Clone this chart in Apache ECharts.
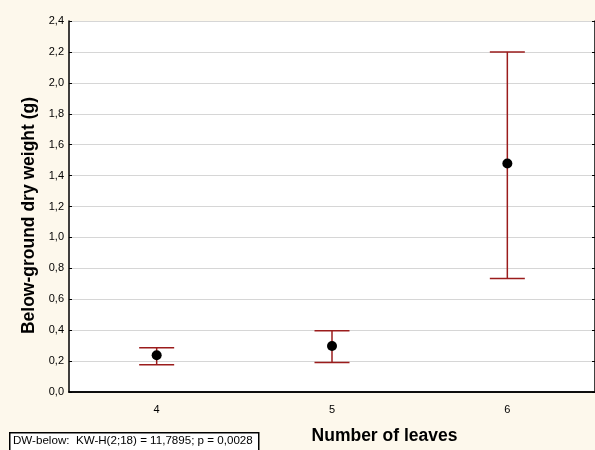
<!DOCTYPE html>
<html>
<head>
<meta charset="utf-8">
<script src="https://cdn.jsdelivr.net/npm/echarts@6/dist/echarts.min.js"></script>
<style>
html,body{margin:0;padding:0;background:#fdf8ec;}
#c{width:595px;height:450px;}
</style>
</head>
<body>
<div id="c"></div>
<script>
var categories = ['4', '5', '6'];
var means = [0.238, 0.298, 1.478];
var lowers = [0.176, 0.191, 0.734];
var uppers = [0.287, 0.396, 2.200];
var yTicks = [0, 0.2, 0.4, 0.6, 0.8, 1.0, 1.2, 1.4, 1.6, 1.8, 2.0, 2.2, 2.4];
var footnote = 'DW-below:  KW-H(2;18) = 11,7895; p = 0,0028';

var font = '"Liberation Sans", Arial, sans-serif';
var chart = echarts.init(document.getElementById('c'));
var errData = categories.map(function(c, i){ return [i, lowers[i], uppers[i]]; });
var fmt = function(v){ return v.toFixed(1).replace('.', ','); };

chart.setOption({
  backgroundColor: '#fdf8ec',
  animation: false,
  grid: {left: 69, right: 0, top: 21, bottom: 54, backgroundColor: '#ffffff', show: true, borderWidth: 0},
  xAxis: [{
    type: 'category', data: categories, boundaryGap: true, position: 'bottom',
    axisLine: {lineStyle: {color: '#000', width: 1.5}},
    axisTick: {alignWithLabel: true, inside: true, length: 3, lineStyle: {color: '#000'}},
    axisLabel: {color: '#000', fontFamily: font, fontSize: 11, margin: 12},
    name: 'Number of leaves', nameLocation: 'middle', nameGap: 35,
    nameTextStyle: {fontFamily: font, fontSize: 17.5, fontWeight: 'bold', color: '#000', padding: [0,0,0,105]}
  },{
    type: 'category', data: categories, boundaryGap: true, position: 'top',
    axisLine: {lineStyle: {color: '#000', width: 1.5}},
    axisTick: {alignWithLabel: true, inside: true, length: 3, lineStyle: {color: '#000'}},
    axisLabel: {show: false}
  }],
  yAxis: [{
    type: 'value', min: 0, max: 2.4, interval: 0.2, position: 'left',
    axisLine: {show: true, lineStyle: {color: '#000', width: 1.5}},
    axisTick: {show: true, inside: true, length: 3, lineStyle: {color: '#000'}},
    axisLabel: {color: '#000', fontFamily: font, fontSize: 11, margin: 5,
      formatter: function(v){ var t = yTicks.filter(function(x){return Math.abs(x-v)<1e-6;}); return t.length ? fmt(t[0]) : ''; }},
    splitLine: {show: true, lineStyle: {color: '#d6d6d6', width: 1.2}},
    name: 'Below-ground dry weight (g)', nameLocation: 'middle', nameGap: 24,
    nameTextStyle: {fontFamily: font, fontSize: 17.5, fontWeight: 'bold', color: '#000', padding: [0, 18, 0, 0]}
  },{
    type: 'value', min: 0, max: 2.4, interval: 0.2, position: 'right',
    axisLine: {show: true, lineStyle: {color: '#000', width: 1.5}},
    axisTick: {show: true, inside: true, length: 3, lineStyle: {color: '#000'}},
    axisLabel: {show: false}, splitLine: {show: false}
  }],
  series: [{
    type: 'custom',
    xAxisIndex: 0, yAxisIndex: 0,
    data: errData,
    renderItem: function(params, api){
      var x = api.value(0);
      var lo = api.coord([x, api.value(1)]);
      var hi = api.coord([x, api.value(2)]);
      var hw = 17.5;
      var st = {stroke: '#9b1c1c', lineWidth: 1.5};
      return {type: 'group', children: [
        {type: 'line', shape: {x1: hi[0], y1: hi[1], x2: lo[0], y2: lo[1]}, style: st},
        {type: 'line', shape: {x1: hi[0]-hw, y1: hi[1], x2: hi[0]+hw, y2: hi[1]}, style: st},
        {type: 'line', shape: {x1: lo[0]-hw, y1: lo[1], x2: lo[0]+hw, y2: lo[1]}, style: st}
      ]};
    },
    z: 2
  },{
    type: 'scatter', xAxisIndex: 0, yAxisIndex: 0,
    data: means, symbol: 'circle', symbolSize: 10,
    itemStyle: {color: '#000', opacity: 1}, z: 3
  }],
  graphic: [{
    type: 'rect', left: 9, top: 432, shape: {width: 249, height: 24},
    style: {fill: '#ffffff', stroke: '#000', lineWidth: 1.5}
  },{
    type: 'text', left: 13, top: 435,
    style: {text: footnote, font: '11.6px ' + font, fill: '#000'}
  }]
});
</script>
</body>
</html>
